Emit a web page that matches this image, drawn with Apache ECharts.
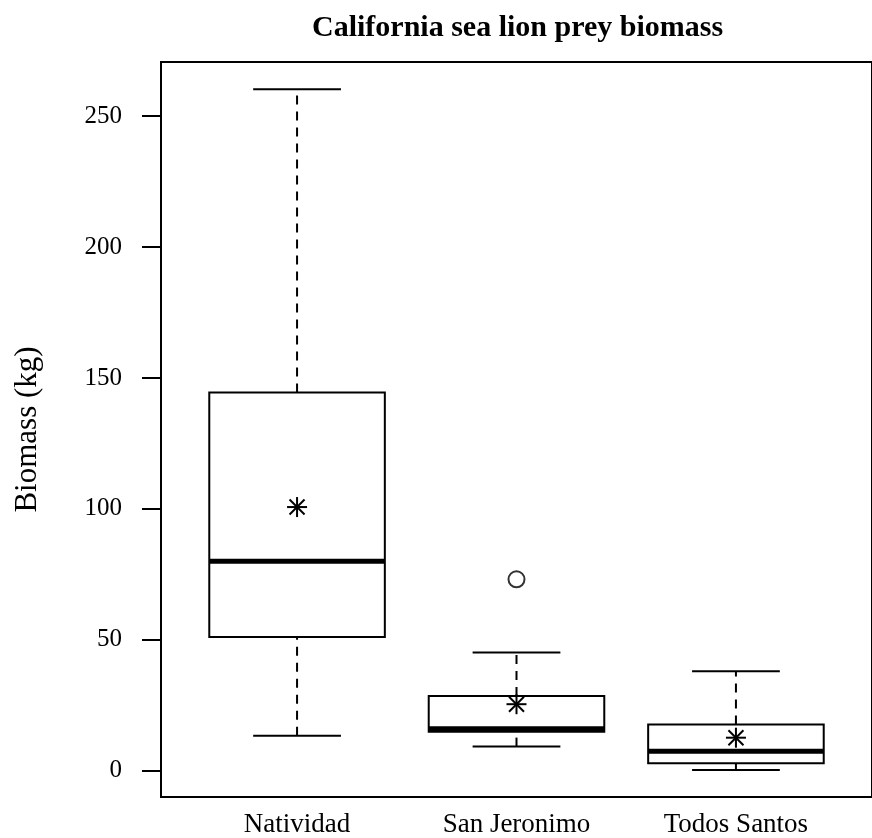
<!DOCTYPE html>
<html>
<head>
<meta charset="utf-8">
<script src="https://cdn.jsdelivr.net/npm/echarts@6/dist/echarts.min.js"></script>
<style>
  html, body { margin: 0; padding: 0; background: #fff; }
  #chart { width: 872px; height: 838px; }
</style>
</head>
<body>
<div id="chart"></div>
<script>
// ===== 数据 =====
const sites = ['Natividad', 'San Jeronimo', 'Todos Santos'];
const whiskerLow = [13.3, 9.2, 0.3];
const q1 = [51.1, 14.9, 2.8];
const median = [80.0, 16.0, 7.4];
const q3 = [144.5, 28.5, 17.6];
const whiskerHigh = [260.3, 45.1, 38.0];
const means = [100.7, 25.4, 12.6];
const outliers = [[2, 73.1]];
const yTicks = [0, 50, 100, 150, 200, 250];

const FONT = '"Liberation Serif", "DejaVu Serif", serif';

const boxData = sites.map(function (s, i) {
  return [i + 1, whiskerLow[i], q1[i], median[i], q3[i], whiskerHigh[i]];
});
const meanData = sites.map(function (s, i) { return [i + 1, means[i]]; });

// 箱线图：虚线须 + 实线端帽 + 粗中位线
function renderBox(params, api) {
  const x = api.value(0);
  const pLow = api.coord([x, api.value(1)]);
  const pQ1 = api.coord([x, api.value(2)]);
  const pMed = api.coord([x, api.value(3)]);
  const pQ3 = api.coord([x, api.value(4)]);
  const pHigh = api.coord([x, api.value(5)]);
  const halfBox = api.size([0.4, 0])[0];
  const halfCap = api.size([0.2, 0])[0];
  const cx = pMed[0];
  const solid = { stroke: '#000', lineWidth: 2, fill: null };
  const dashed = { stroke: '#000', lineWidth: 2, lineDash: [9, 7], fill: null };
  return {
    type: 'group',
    children: [
      { type: 'line', shape: { x1: cx, y1: pQ3[1], x2: cx, y2: pHigh[1] }, style: dashed },
      { type: 'line', shape: { x1: cx, y1: pLow[1], x2: cx, y2: pQ1[1] }, style: dashed },
      { type: 'line', shape: { x1: cx - halfCap, y1: pHigh[1], x2: cx + halfCap, y2: pHigh[1] }, style: solid },
      { type: 'line', shape: { x1: cx - halfCap, y1: pLow[1], x2: cx + halfCap, y2: pLow[1] }, style: solid },
      { type: 'rect', shape: { x: cx - halfBox, y: pQ3[1], width: halfBox * 2, height: pQ1[1] - pQ3[1] },
        style: { stroke: '#000', lineWidth: 2, fill: '#fff' } },
      { type: 'line', shape: { x1: cx - halfBox, y1: pMed[1], x2: cx + halfBox, y2: pMed[1] },
        style: { stroke: '#000', lineWidth: 5 } }
    ]
  };
}

// 均值：星号 (pch 8)
function renderMean(params, api) {
  const p = api.coord([api.value(0), api.value(1)]);
  const r = 10, d = 7.5;
  const st = { stroke: '#000', lineWidth: 2 };
  return {
    type: 'group',
    children: [
      { type: 'line', shape: { x1: p[0] - r, y1: p[1], x2: p[0] + r, y2: p[1] }, style: st },
      { type: 'line', shape: { x1: p[0], y1: p[1] - r, x2: p[0], y2: p[1] + r }, style: st },
      { type: 'line', shape: { x1: p[0] - d, y1: p[1] - d, x2: p[0] + d, y2: p[1] + d }, style: st },
      { type: 'line', shape: { x1: p[0] - d, y1: p[1] + d, x2: p[0] + d, y2: p[1] - d }, style: st }
    ]
  };
}

const chart = echarts.init(document.getElementById('chart'), null, { renderer: 'canvas' });

chart.setOption({
  animation: false,
  backgroundColor: '#fff',
  title: {
    text: 'California sea lion prey biomass',
    left: 307,
    top: 8,
    textStyle: { fontFamily: FONT, fontSize: 30, fontWeight: 'bold', color: '#000' }
  },
  grid: {
    left: 161, top: 62, right: -5, bottom: 41,
    show: true, borderColor: '#000', borderWidth: 2, backgroundColor: 'transparent'
  },
  xAxis: {
    type: 'value',
    min: 0.38,
    max: 3.62,
    axisLine: { show: false },
    axisTick: { show: false },
    splitLine: { show: false },
    axisLabel: {
      customValues: [1, 2, 3],
      formatter: function (v) { return sites[Math.round(v) - 1]; },
      margin: 14,
      fontFamily: FONT, fontSize: 27, color: '#000'
    }
  },
  yAxis: {
    type: 'value',
    min: -10.05,
    max: 270.7,
    name: 'Biomass (kg)',
    nameLocation: 'middle',
    nameRotate: 90,
    nameGap: 118,
    nameTextStyle: { fontFamily: FONT, fontSize: 31, color: '#000' },
    axisLine: { show: false },
    splitLine: { show: false },
    axisTick: {
      show: true,
      customValues: yTicks,
      length: 19,
      lineStyle: { color: '#000', width: 2 }
    },
    axisLabel: {
      customValues: yTicks,
      margin: 39,
      fontFamily: FONT, fontSize: 25, color: '#000'
    }
  },
  series: [
    {
      type: 'custom',
      renderItem: renderBox,
      data: boxData,
      encode: { x: 0, y: [1, 2, 3, 4, 5] }
    },
    {
      type: 'custom',
      renderItem: renderMean,
      data: meanData,
      encode: { x: 0, y: 1 },
      z: 5
    },
    {
      type: 'scatter',
      data: outliers,
      symbol: 'emptyCircle',
      symbolSize: 16,
      itemStyle: { color: '#000', borderColor: '#000', borderWidth: 1.6 },
      z: 6
    }
  ]
});
</script>
</body>
</html>
